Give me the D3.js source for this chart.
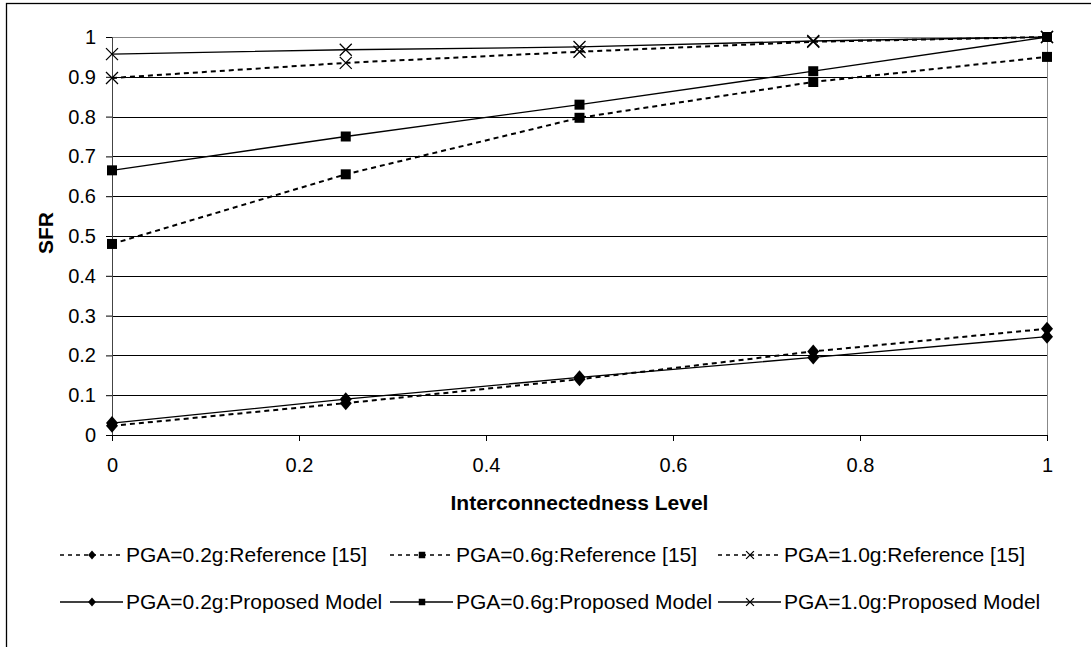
<!DOCTYPE html>
<html>
<head>
  <meta charset="utf-8">
  <title>SFR vs Interconnectedness Level</title>
  <script src="https://cdn.jsdelivr.net/npm/d3@7/dist/d3.min.js"></script>
  <style>
    body { margin: 0; background: #fff; overflow: hidden; }
    svg { display: block; font-family: Arial, "Liberation Sans", sans-serif; }
    .tick text { font-size: 20px; fill: #000; }
  </style>
</head>
<body>
<div id="chart"></div>
<script>
  // data
  var levels = [0, 0.25, 0.5, 0.75, 1];
  var ref02 = [0.023, 0.08, 0.14, 0.21, 0.267];
  var ref06 = [0.48, 0.655, 0.797, 0.887, 0.95];
  var ref10 = [0.897, 0.935, 0.963, 0.988, 1.0];
  var prop02 = [0.03, 0.09, 0.145, 0.195, 0.247];
  var prop06 = [0.665, 0.75, 0.83, 0.914, 1.0];
  var prop10 = [0.957, 0.968, 0.975, 0.99, 1.0];
  var seriesNames = [
    'PGA=0.2g:Reference [15]', 'PGA=0.6g:Reference [15]', 'PGA=1.0g:Reference [15]',
    'PGA=0.2g:Proposed Model', 'PGA=0.6g:Proposed Model', 'PGA=1.0g:Proposed Model'
  ];
  var xTicks = [0, 0.2, 0.4, 0.6, 0.8, 1];
  var yTicks = [0, 0.1, 0.2, 0.3, 0.4, 0.5, 0.6, 0.7, 0.8, 0.9, 1];

  var series = [
    { name: seriesNames[0], values: ref02, dashed: true, marker: 'diamond' },
    { name: seriesNames[1], values: ref06, dashed: true, marker: 'square' },
    { name: seriesNames[2], values: ref10, dashed: true, marker: 'cross' },
    { name: seriesNames[3], values: prop02, dashed: false, marker: 'diamond' },
    { name: seriesNames[4], values: prop06, dashed: false, marker: 'square' },
    { name: seriesNames[5], values: prop10, dashed: false, marker: 'cross' }
  ];

  var W = 1091, H = 647;
  var margin = { left: 112, top: 37, right: 44, bottom: 212 };
  var w = W - margin.left - margin.right,
    h = H - margin.top - margin.bottom;

  var svg = d3.select('#chart').append('svg')
    .attr('width', W)
    .attr('height', H);

  // outer frame (runs off the right and bottom edge)
  svg.append('rect')
    .attr('x', 6.5).attr('y', 3.5)
    .attr('width', 1200).attr('height', 800)
    .attr('fill', 'none').attr('stroke', '#000').attr('stroke-width', 1.3);

  var g = svg.append('g')
    .attr('transform', `translate(${margin.left}, ${margin.top})`);

  var x = d3.scaleLinear().domain([0, 1]).range([0, w]);
  var y = d3.scaleLinear().domain([0, 1]).range([h, 0]);

  // horizontal gridlines
  g.selectAll('.grid')
    .data(yTicks.filter(d => d > 0))
    .enter().append('line')
    .attr('class', 'grid')
    .attr('x1', 0).attr('x2', w)
    .attr('y1', d => Math.round(y(d)) + 0.5)
    .attr('y2', d => Math.round(y(d)) + 0.5)
    .attr('stroke', d => d === 1 ? '#888' : '#000')
    .attr('stroke-width', 1);

  // right border of plot area
  g.append('line')
    .attr('x1', w + 0.5).attr('x2', w + 0.5)
    .attr('y1', 0).attr('y2', h)
    .attr('stroke', '#888');

  var fmt = d => d === 0 || d === 1 ? d3.format('d')(d) : d3.format('.1f')(d);

  var yAxis = g.append('g')
    .call(d3.axisLeft(y).tickValues(yTicks).tickSize(6).tickPadding(10).tickFormat(fmt));
  yAxis.select('.domain').attr('stroke', '#444');

  var xAxis = g.append('g')
    .attr('transform', `translate(0, ${h})`)
    .call(d3.axisBottom(x).tickValues(xTicks).tickSize(6).tickPadding(17).tickFormat(fmt));
  xAxis.select('.domain').attr('stroke', '#000');

  // axis titles
  svg.append('text')
    .attr('transform', `translate(53, ${margin.top + y(0.5) - 3}) rotate(-90)`)
    .attr('text-anchor', 'middle')
    .style('font-size', '21px').style('font-weight', 'bold')
    .text('SFR');

  svg.append('text')
    .attr('x', margin.left + w / 2)
    .attr('y', 510)
    .attr('text-anchor', 'middle')
    .style('font-size', '21px').style('font-weight', 'bold')
    .text('Interconnectedness Level');

  function markerPath(type) {
    if (type === 'diamond') return 'M0,-7L6,0L0,7L-6,0Z';
    if (type === 'square') return 'M-5,-5H5V5H-5Z';
    return 'M-6,-6L6,6M-6,6L6,-6';
  }
  function drawMarker(sel, type, scale) {
    sel.append('path')
      .attr('d', markerPath(type))
      .attr('transform', `scale(${scale})`)
      .attr('fill', type === 'cross' ? 'none' : '#000')
      .attr('stroke', '#000')
      .attr('stroke-width', type === 'cross' ? 1.3 / scale : 0);
  }

  var line = d3.line()
    .x((d, i) => x(levels[i]))
    .y(d => y(d));

  series.forEach(s => {
    g.append('path')
      .datum(s.values)
      .attr('d', line)
      .attr('fill', 'none')
      .attr('stroke', '#000')
      .attr('stroke-width', s.dashed ? 2 : 1.3)
      .attr('stroke-dasharray', s.dashed ? '5,4' : null);
  });

  series.forEach(s => {
    s.values.forEach((v, i) => {
      var m = g.append('g')
        .attr('transform', `translate(${x(levels[i])}, ${y(v)})`);
      drawMarker(m, s.marker, 1);
    });
  });

  // legend
  var legX = [60, 390, 718];
  var legY = [555, 602];
  series.forEach((s, i) => {
    var col = i % 3, row = Math.floor(i / 3);
    var lg = svg.append('g')
      .attr('transform', `translate(${legX[col]}, ${legY[row]})`);
    lg.append('line')
      .attr('x1', 0).attr('x2', 63)
      .attr('y1', 0).attr('y2', 0)
      .attr('stroke', '#000')
      .attr('stroke-width', s.dashed ? 1.5 : 1.3)
      .attr('stroke-dasharray', s.dashed ? '4,4' : null);
    var mk = lg.append('g').attr('transform', 'translate(32, 0)');
    drawMarker(mk, s.marker, 0.65);
    lg.append('text')
      .attr('x', 66)
      .attr('y', 0)
      .attr('dy', '0.35em')
      .style('font-size', '21px')
      .text(s.name);
  });
</script>
</body>
</html>
